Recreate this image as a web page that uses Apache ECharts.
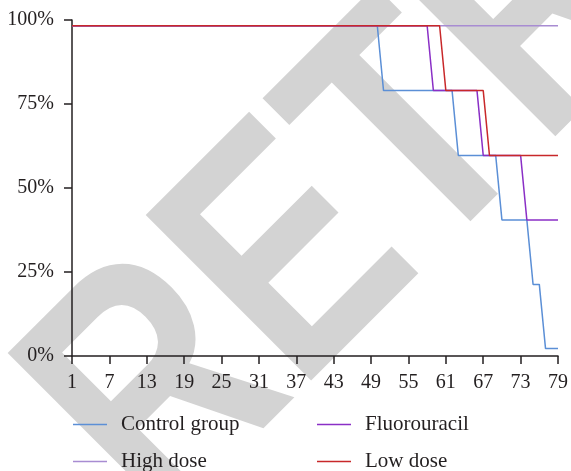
<!DOCTYPE html>
<html>
<head>
<meta charset="utf-8">
<script src="https://cdn.jsdelivr.net/npm/echarts@6/dist/echarts.min.js"></script>
<style>html,body{margin:0;padding:0;background:#fff;}#c{width:571px;height:471px;}</style>
</head>
<body>
<div id="c"></div>
<script>
var days = [1,2,3,4,5,6,7,8,9,10,11,12,13,14,15,16,17,18,19,20,21,22,23,24,25,26,27,28,29,30,31,32,33,34,35,36,37,38,39,40,41,42,43,44,45,46,47,48,49,50,51,52,53,54,55,56,57,58,59,60,61,62,63,64,65,66,67,68,69,70,71,72,73,74,75,76,77,78,79];
var yTicks = ['0%','25%','50%','75%','100%'];
var seriesNames = ['Control group','Fluorouracil','High dose','Low dose'];
var controlGroup = [
98.3,98.3,98.3,98.3,98.3,98.3,98.3,98.3,98.3,98.3,
98.3,98.3,98.3,98.3,98.3,98.3,98.3,98.3,98.3,98.3,
98.3,98.3,98.3,98.3,98.3,98.3,98.3,98.3,98.3,98.3,
98.3,98.3,98.3,98.3,98.3,98.3,98.3,98.3,98.3,98.3,
98.3,98.3,98.3,98.3,98.3,98.3,98.3,98.3,98.3,98.3,
79.0,79.0,79.0,79.0,79.0,79.0,79.0,79.0,79.0,79.0,
79.0,79.0,59.7,59.7,59.7,59.7,59.7,59.7,59.7,40.5,
40.5,40.5,40.5,40.5,21.3,21.3,2.2,2.2,2.2];
var fluorouracil = [
98.3,98.3,98.3,98.3,98.3,98.3,98.3,98.3,98.3,98.3,
98.3,98.3,98.3,98.3,98.3,98.3,98.3,98.3,98.3,98.3,
98.3,98.3,98.3,98.3,98.3,98.3,98.3,98.3,98.3,98.3,
98.3,98.3,98.3,98.3,98.3,98.3,98.3,98.3,98.3,98.3,
98.3,98.3,98.3,98.3,98.3,98.3,98.3,98.3,98.3,98.3,
98.3,98.3,98.3,98.3,98.3,98.3,98.3,98.3,79.0,79.0,
79.0,79.0,79.0,79.0,79.0,79.0,59.7,59.7,59.7,59.7,
59.7,59.7,59.7,40.5,40.5,40.5,40.5,40.5,40.5];
var highDose = [
98.3,98.3,98.3,98.3,98.3,98.3,98.3,98.3,98.3,98.3,
98.3,98.3,98.3,98.3,98.3,98.3,98.3,98.3,98.3,98.3,
98.3,98.3,98.3,98.3,98.3,98.3,98.3,98.3,98.3,98.3,
98.3,98.3,98.3,98.3,98.3,98.3,98.3,98.3,98.3,98.3,
98.3,98.3,98.3,98.3,98.3,98.3,98.3,98.3,98.3,98.3,
98.3,98.3,98.3,98.3,98.3,98.3,98.3,98.3,98.3,98.3,
98.3,98.3,98.3,98.3,98.3,98.3,98.3,98.3,98.3,98.3,
98.3,98.3,98.3,98.3,98.3,98.3,98.3,98.3,98.3];
var lowDose = [
98.3,98.3,98.3,98.3,98.3,98.3,98.3,98.3,98.3,98.3,
98.3,98.3,98.3,98.3,98.3,98.3,98.3,98.3,98.3,98.3,
98.3,98.3,98.3,98.3,98.3,98.3,98.3,98.3,98.3,98.3,
98.3,98.3,98.3,98.3,98.3,98.3,98.3,98.3,98.3,98.3,
98.3,98.3,98.3,98.3,98.3,98.3,98.3,98.3,98.3,98.3,
98.3,98.3,98.3,98.3,98.3,98.3,98.3,98.3,98.3,98.3,
79.0,79.0,79.0,79.0,79.0,79.0,79.0,59.7,59.7,59.7,
59.7,59.7,59.7,59.7,59.7,59.7,59.7,59.7,59.7];

var colors = {'Control group':'#5b8fd6','Fluorouracil':'#8a2fc6','High dose':'#a88cd2','Low dose':'#c8282a'};
var FONT = 'Liberation Serif';
var chart = echarts.init(document.getElementById('c'));

function mkSeries(name, data, z) {
  return {
    name: name, type: 'line', data: data, symbol: 'none', showSymbol: false,
    z: z, animation: false,
    lineStyle: { color: colors[name], width: 1.5 },
    itemStyle: { color: colors[name] }
  };
}
function mkLegend(name, left, top) {
  return {
    data: [name], left: left, top: top, icon: 'rect', itemWidth: 34, itemHeight: 1.5,
    selectedMode: false,
    textStyle: { fontFamily: FONT, fontSize: 21, color: '#231f20', padding: [0,0,0,9] }
  };
}
chart.setOption({
  animation: false,
  backgroundColor: '#fff',
  graphic: [{
    type: 'text', z: -10, x: 94, y: 465, rotation: Math.PI / 4, scaleX: 0.795,
    style: { text: 'RETRACTED', x: 0, y: 0, fill: '#d3d3d3',
      font: 'bold 340px "Liberation Sans"', textAlign: 'left', textVerticalAlign: 'middle' }
  }],
  grid: { left: 72, right: 11, top: 20, bottom: 115 },
  legend: [
    mkLegend('Control group', 68, 409),
    mkLegend('Fluorouracil', 312, 409),
    mkLegend('High dose', 68, 446),
    mkLegend('Low dose', 312, 446)
  ],
  xAxis: {
    type: 'category', data: days, boundaryGap: false,
    axisLine: { lineStyle: { color: '#231f20', width: 1.5 } },
    axisTick: { interval: 5, length: 8, lineStyle: { color: '#231f20', width: 1.5 } },
    axisLabel: { interval: 5, margin: 17, fontFamily: FONT, fontSize: 20, color: '#231f20' },
    splitLine: { show: false }
  },
  yAxis: {
    type: 'value', min: 0, max: 100, interval: 25,
    axisLine: { show: true, lineStyle: { color: '#231f20', width: 1.5 } },
    axisTick: { show: true, length: 8, lineStyle: { color: '#231f20', width: 1.5 } },
    axisLabel: { margin: 18, fontFamily: FONT, fontSize: 20, color: '#231f20',
      formatter: function (v) { return yTicks[Math.round(v / 25)]; } },
    splitLine: { show: false }
  },
  series: [
    mkSeries('Control group', controlGroup, 3),
    mkSeries('High dose', highDose, 4),
    mkSeries('Fluorouracil', fluorouracil, 5),
    mkSeries('Low dose', lowDose, 6)
  ]
});
</script>
</body>
</html>
